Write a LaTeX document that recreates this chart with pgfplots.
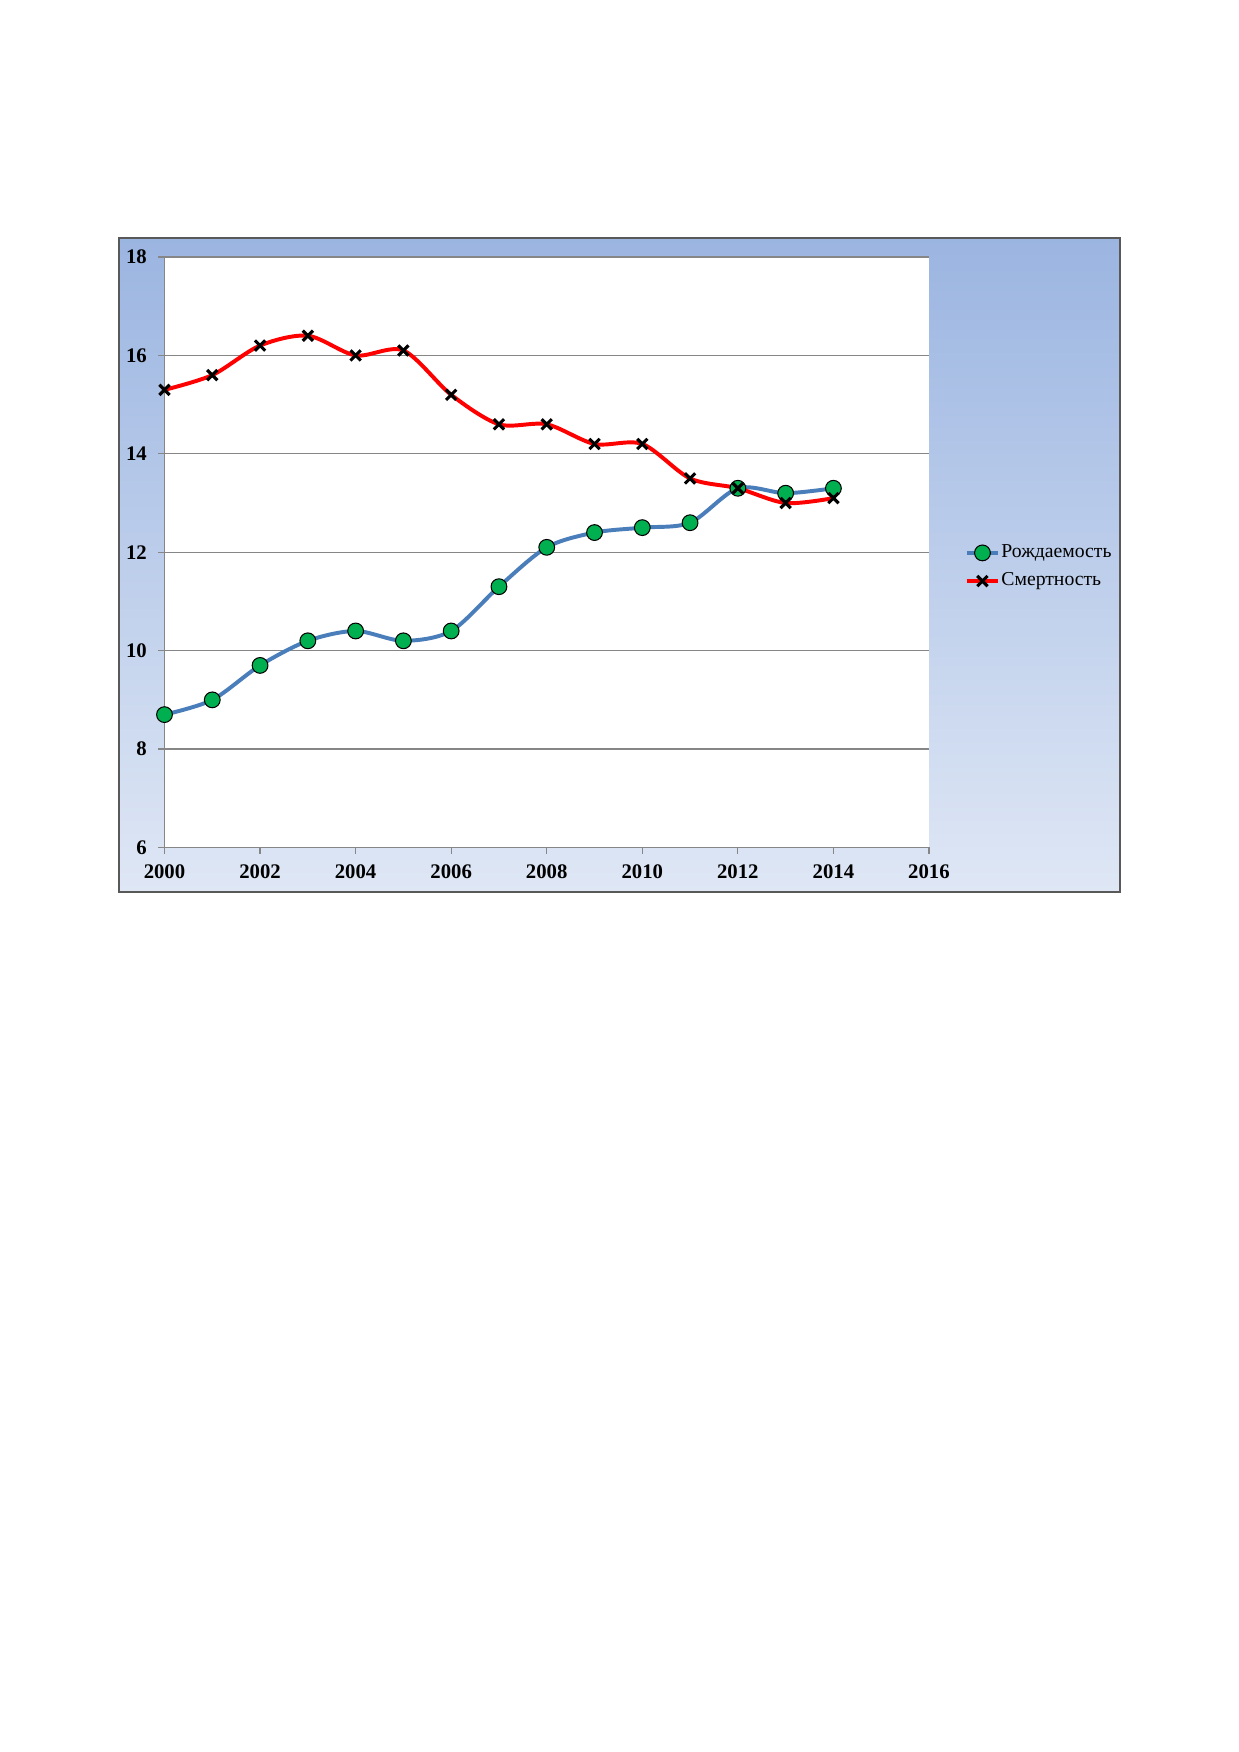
\documentclass[border=0pt]{standalone}
\usepackage{fontspec}
\setmainfont{Liberation Serif}
\usepackage{pgfplots}
\pgfplotsset{compat=1.18}
\definecolor{bgtop}{HTML}{9BB5E1}
\definecolor{bgbot}{HTML}{DFE7F5}
\definecolor{gridc}{HTML}{868686}
\definecolor{birth}{HTML}{4A7EBB}
\definecolor{bgreen}{HTML}{00B050}
\begin{document}
\begin{tikzpicture}
\path[use as bounding box] (0,0) rectangle (597.2pt,-844.5pt);
\shade[top color=bgtop, bottom color=bgbot] (57.36pt,-114.72pt) rectangle (539.84pt,-429.94pt);
\draw[gray!70!black, line width=1pt] (57.36pt,-114.72pt) rectangle (539.84pt,-429.94pt);
\begin{axis}[
  at={(79.29pt,-408.5pt)}, anchor=south west,
  scale only axis, width=368.49pt, height=284.62pt,
  xmin=2000, xmax=2016, ymin=6, ymax=18,
  xtick={2000,2002,...,2016}, ytick={6,8,...,18},
  axis lines=left, axis line style={gridc, -, line width=0.6pt},
  axis background/.style={fill=white},
  ymajorgrids, grid style={gridc, line width=0.6pt},
  tick style={gridc, line width=0.6pt}, tick align=outside, major tick length=3pt,
  /pgf/number format/1000 sep={}, /pgf/number format/assume math mode=true,
  ticklabel style={font=\bfseries\fontsize{10}{12}\selectfont},
  xticklabel style={yshift=-1.6pt},
  yticklabel style={xshift=-2pt},
  clip=false,
  legend style={at={(1.046,0.475)}, anchor=west, draw=none, fill=none,
    font=\fontsize{9.5}{11.5}\selectfont, row sep=3.8pt, inner sep=0pt,
    nodes={inner xsep=0.5pt, inner ysep=1pt},
    /tikz/every even column/.append style={column sep=0pt}},
  legend cell align=left,
  legend image code/.code={\draw[mark repeat=2,mark phase=2] plot coordinates {(0cm,0cm) (0.27cm,0cm) (0.54cm,0cm)};},
]
\addplot[birth, line width=1.9pt, smooth, tension=0.5, mark=*, mark size=3.8pt,
  mark options={fill=bgreen, draw=black, line width=0.5pt}] coordinates {
 (2000,8.7) (2001,9.0) (2002,9.7) (2003,10.2) (2004,10.4) (2005,10.2) (2006,10.4)
 (2007,11.3) (2008,12.1) (2009,12.4) (2010,12.5) (2011,12.6) (2012,13.3) (2013,13.2) (2014,13.3)};
\addlegendentry{Рождаемость}
\addplot[red, line width=1.9pt, smooth, tension=0.5, mark=x, mark size=3.5pt,
  mark options={draw=black, line width=1.5pt}] coordinates {
 (2000,15.3) (2001,15.6) (2002,16.2) (2003,16.4) (2004,16.0) (2005,16.1) (2006,15.2)
 (2007,14.6) (2008,14.6) (2009,14.2) (2010,14.2) (2011,13.5) (2012,13.3) (2013,13.0) (2014,13.1)};
\addlegendentry{Смертность}
\end{axis}
\end{tikzpicture}
\end{document}
